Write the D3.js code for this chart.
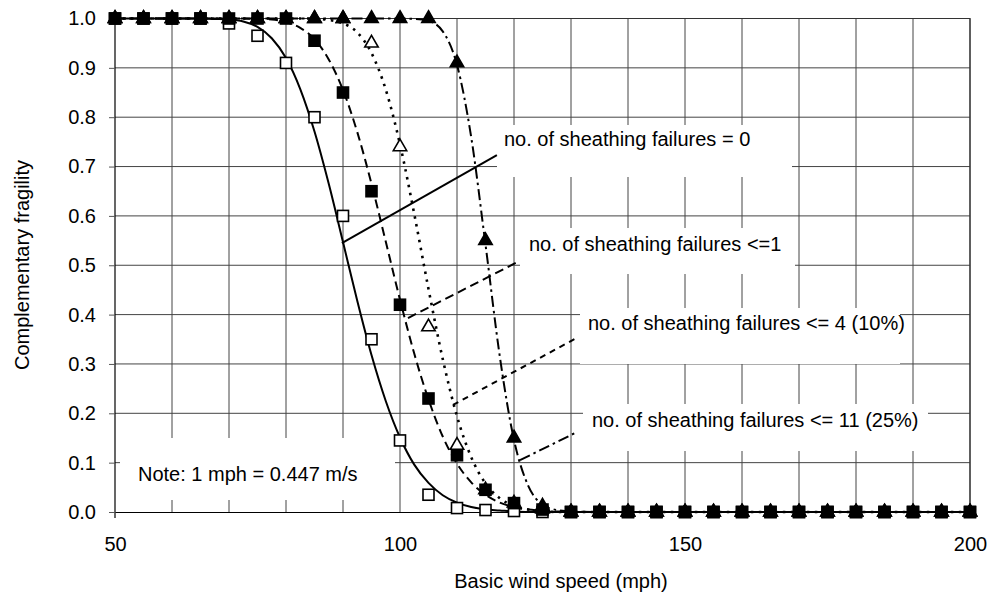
<!DOCTYPE html>
<html>
<head>
<meta charset="utf-8">
<script src="https://cdn.jsdelivr.net/npm/d3@7"></script>
<style>
  body { margin: 0; background: #fff; }
  svg { display: block; font-family: "Liberation Sans", Arial, sans-serif; }
</style>
</head>
<body>
<svg id="chart" width="997" height="601"></svg>
<script>
// wind speed (mph) where markers sit
const speed = [50,55,60,65,70,75,80,85,90,95,100,105,110,115,120,125,130,135,140,145,150,155,160,165,170,175,180,185,190,195,200];
// markers
const sq0   = [1,1,1,1,0.99,0.965,0.91,0.80,0.60,0.35,0.145,0.035,0.008,0.004,0.002,0,0,0,0,0,0,0,0,0,0,0,0,0,0,0,0];
const sq1   = [1,1,1,1,1,1,1,0.955,0.85,0.65,0.42,0.23,0.115,0.045,0.018,0.005,0,0,0,0,0,0,0,0,0,0,0,0,0,0,0];
const tri4  = [1,1,1,1,1,1,1,1,1,0.95,0.74,0.375,0.135,0.045,0.018,0.006,0,0,0,0,0,0,0,0,0,0,0,0,0,0,0];
const tri11 = [1,1,1,1,1,1,1,1,1,1,1,1,0.91,0.55,0.15,0.012,0,0,0,0,0,0,0,0,0,0,0,0,0,0,0];

// fitted curves
const fitSpeed = [50,55,60,65,67.5,70,72.5,75,77.5,80,82.5,85,87.5,90,92.5,95,97.5,100,102.5,105,107.5,110,112.5,115,117.5,120,122.5,125,127.5,130,135,200];
const fit0  = [1,1,1,1,0.999,0.998,0.994,0.983,0.960,0.920,0.857,0.771,0.665,0.547,0.428,0.318,0.225,0.151,0.096,0.059,0.034,0.019,0.010,0.005,0.003,0.001,0,0,0,0,0,0];
const fit1  = [1,1,1,1,1,1,1,0.999,0.998,0.993,0.981,0.958,0.917,0.855,0.770,0.665,0.548,0.430,0.321,0.228,0.153,0.098,0.060,0.035,0.019,0.010,0.005,0.003,0.001,0,0,0];
const fit4  = [1,1,1,1,1,1,1,1,1,1,1,1,0.997,0.990,0.972,0.930,0.856,0.745,0.604,0.452,0.310,0.194,0.111,0.058,0.028,0.012,0.005,0.002,0,0,0,0];
const fit11 = [1,1,1,1,1,1,1,1,1,1,1,1,1,1,1,1,1,1,0.999,0.995,0.974,0.906,0.759,0.542,0.316,0.146,0.053,0.015,0.004,0.001,0,0];

const xTicks = [50,100,150,200];
const yTicks = [0,0.1,0.2,0.3,0.4,0.5,0.6,0.7,0.8,0.9,1.0];
const xGrid = [60,70,80,90,100,110,120,130,140,150,160,170,180,190,200];

const labels = [
  "no. of sheathing failures = 0",
  "no. of sheathing failures <=1",
  "no. of sheathing failures <= 4 (10%)",
  "no. of sheathing failures <= 11 (25%)"
];
// leader lines: [speed, fragility] start and end
const leaders = [
  [[89.8,0.545],[117.0,0.723]],
  [[101.4,0.393],[120.7,0.507]],
  [[109.3,0.217],[131.05,0.353]],
  [[121.05,0.105],[130.7,0.16]]
];
const note = "Note: 1 mph = 0.447 m/s";

const styles = [
  {dash: null, w: 2},
  {dash: "9,5", w: 2},
  {dash: "2.5,5.5", w: 2.6},
  {dash: "11,4,2.5,4", w: 2}
];
const leaderDash = [null, "9,5", "6,5", "11,4,2.5,4"];

const svg = d3.select("#chart");
const pL = 115, pR = 970, pT = 18.5, pB = 512;

const x = d3.scaleLinear().domain([50,200]).range([pL,pR]);
const y = d3.scaleLinear().domain([0,1]).range([pB,pT]);

// grid
const grid = svg.append("g").attr("stroke", "#444").attr("stroke-width", 1);
grid.selectAll(".v").data(xGrid).enter().append("line")
  .attr("x1", d => x(d)).attr("x2", d => x(d))
  .attr("y1", pT).attr("y2", pB);
grid.selectAll(".h").data(yTicks.slice(1)).enter().append("line")
  .attr("x1", pL).attr("x2", pR)
  .attr("y1", d => y(d)).attr("y2", d => y(d));

// white boxes behind the text
const boxes = [
  [497,125,295,52],
  [520,228,275,46],
  [580,308,320,56],
  [583,404,345,47],
  [120,438,275,62]
];
svg.append("g").selectAll("rect").data(boxes).enter().append("rect")
  .attr("x", d => d[0]).attr("y", d => d[1])
  .attr("width", d => d[2]).attr("height", d => d[3])
  .attr("fill", "#fff");

// axes
svg.append("g")
  .attr("transform", "translate(" + pL + ",0)")
  .call(d3.axisLeft(y).tickValues(yTicks).tickFormat(d3.format(".1f")).tickSize(6).tickSizeOuter(0).tickPadding(13))
  .call(g => g.select(".domain").attr("stroke", "#000").attr("stroke-width", 1.2).attr("d", "M0," + pT + "V" + (pB + 6)))
  .call(g => g.selectAll(".tick line").attr("stroke", "#555"))
  .call(g => g.selectAll("text").attr("font-size", 20).attr("fill", "#000").attr("font-family", "Liberation Sans, Arial, sans-serif"));

svg.append("g")
  .attr("transform", "translate(0," + pB + ")")
  .call(d3.axisBottom(x).tickValues(xTicks).tickSize(0).tickPadding(25))
  .call(g => g.select(".domain").attr("stroke", "#000").attr("stroke-width", 1.2))
  .call(g => g.selectAll("text").attr("font-size", 20).attr("fill", "#000").attr("font-family", "Liberation Sans, Arial, sans-serif"));

// plot border top/right
svg.append("path")
  .attr("d", "M" + pL + "," + pT + "H" + pR + "V" + pB)
  .attr("fill", "none").attr("stroke", "#333").attr("stroke-width", 1.2);

// fitted curves
const fits = [fit0, fit1, fit4, fit11];
const line = d3.line().x(d => x(d[0])).y(d => y(d[1])).curve(d3.curveMonotoneX);
fits.forEach((f, i) => {
  svg.append("path")
    .datum(fitSpeed.map((s, j) => [s, f[j]]))
    .attr("d", line)
    .attr("fill", "none")
    .attr("stroke", "#000")
    .attr("stroke-width", styles[i].w)
    .attr("stroke-dasharray", styles[i].dash);
});

// leader lines
leaders.forEach((l, i) => {
  svg.append("line")
    .attr("x1", x(l[0][0])).attr("y1", y(l[0][1]))
    .attr("x2", x(l[1][0])).attr("y2", y(l[1][1]))
    .attr("stroke", "#000").attr("stroke-width", 2)
    .attr("stroke-dasharray", leaderDash[i]);
});

// markers: open squares, open triangles, filled squares, filled triangles
const sqSize = 11;
function squares(vals, fill) {
  svg.append("g").selectAll("rect").data(speed.map((s, j) => [s, vals[j]])).enter().append("rect")
    .attr("x", d => x(d[0]) - sqSize / 2).attr("y", d => y(d[1]) - sqSize / 2)
    .attr("width", sqSize).attr("height", sqSize)
    .attr("fill", fill).attr("stroke", "#000").attr("stroke-width", 1.6);
}
const tri = d3.symbol().type(d3.symbolTriangle).size(78);
function triangles(vals, fill) {
  svg.append("g").selectAll("path").data(speed.map((s, j) => [s, vals[j]])).enter().append("path")
    .attr("d", tri)
    .attr("transform", d => "translate(" + x(d[0]) + "," + y(d[1]) + ")")
    .attr("fill", fill).attr("stroke", "#000").attr("stroke-width", 1.6);
}
squares(sq0, "#fff");
triangles(tri4, "#fff");
squares(sq1, "#000");
triangles(tri11, "#000");

// label texts
const labelPos = [[504,146],[529,251],[588,330],[592,427]];
svg.append("g").selectAll("text").data(labels).enter().append("text")
  .attr("x", (d, i) => labelPos[i][0]).attr("y", (d, i) => labelPos[i][1])
  .attr("font-size", 20).attr("fill", "#000")
  .text(d => d);

svg.append("text").attr("x", 138).attr("y", 481)
  .attr("font-size", 20).text(note);

// axis titles
svg.append("text")
  .attr("x", 561).attr("y", 588)
  .attr("text-anchor", "middle").attr("font-size", 20)
  .text("Basic wind speed (mph)");

svg.append("text")
  .attr("transform", "translate(29,265) rotate(-90)")
  .attr("text-anchor", "middle").attr("font-size", 20)
  .text("Complementary fragility");
</script>
</body>
</html>
